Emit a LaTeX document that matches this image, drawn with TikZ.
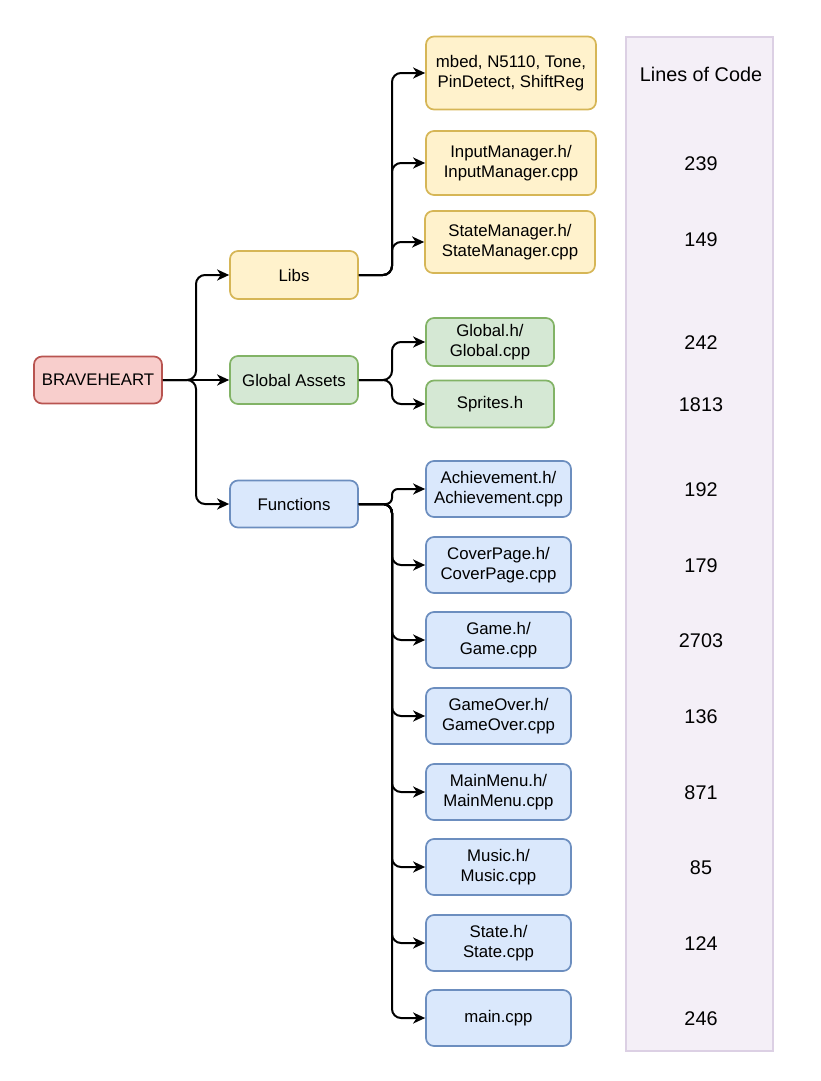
\documentclass[tikz,border=0pt]{standalone}
\usepackage{fontspec}
\setmainfont{Liberation Sans}
\usetikzlibrary{arrows.meta}
\definecolor{redfill}{HTML}{F8CECC}\definecolor{redline}{HTML}{B85450}
\definecolor{yelfill}{HTML}{FFF2CC}\definecolor{yelline}{HTML}{D6B656}
\definecolor{grnfill}{HTML}{D5E8D4}\definecolor{grnline}{HTML}{82B366}
\definecolor{blufill}{HTML}{DAE8FC}\definecolor{bluline}{HTML}{6C8EBF}
\definecolor{panfill}{HTML}{F4EFF7}\definecolor{panline}{HTML}{DCD0E4}
\begin{document}
\begin{tikzpicture}[x=1pt,y=-1pt,
  box/.style={draw, line width=1.7pt, rounded corners=8pt, inner sep=0pt,
    align=center, font=\fontsize{16.8}{19.5}\selectfont},
  rootbox/.style={box, fill=redfill, draw=redline, minimum width=128pt, minimum height=47pt},
  libbox/.style={box, fill=yelfill, draw=yelline, minimum width=170pt},
  glbbox/.style={box, fill=grnfill, draw=grnline, minimum width=128pt, minimum height=48pt},
  funbox/.style={box, fill=blufill, draw=bluline, minimum width=145pt, minimum height=56pt},
  conn/.style={line width=2pt, rounded corners=9pt,
    -{Stealth[length=12pt,width=11pt,inset=3.5pt]}},
  loc/.style={font=\fontsize{19.8}{23}\selectfont}
]
\useasboundingbox (0,0) rectangle (821,1081);

% line-count panel
\node[draw=panline, fill=panfill, line width=1.6pt, minimum width=147pt,
  minimum height=1014pt, inner sep=0pt] (panel) at (699.5,544) {};
\node[loc] (hdr) at (701,74) {Lines of Code};
\node[loc] (n1) at (701,164) {239};
\node[loc] (n2) at (701,240) {149};
\node[loc] (n3) at (701,343) {242};
\node[loc] (n4) at (701,405) {1813};
\node[loc] (n5) at (701,490) {192};
\node[loc] (n6) at (701,566) {179};
\node[loc] (n7) at (701,641) {2703};
\node[loc] (n8) at (701,717) {136};
\node[loc] (n9) at (701,793) {871};
\node[loc] (n10) at (701,868) {85};
\node[loc] (n11) at (701,944) {124};
\node[loc] (n12) at (701,1019) {246};

% tree
\node[rootbox] (root) at (98,380) {BRAVEHEART};
\node[box, fill=yelfill, draw=yelline, minimum width=128pt, minimum height=48pt] (libs) at (294,275) {Libs};
\node[glbbox] (glob) at (294,380) {Global Assets};
\node[box, fill=blufill, draw=bluline, minimum width=128pt, minimum height=47pt] (func) at (294,504) {Functions};

\node[libbox, minimum height=73pt] (mbed) at (511,73) {mbed, N5110, Tone,\\PinDetect, ShiftReg};
\node[libbox, minimum height=64pt] (inpm) at (511,163) {InputManager.h/\\InputManager.cpp};
\node[libbox, minimum height=62pt] (stam) at (510,242) {StateManager.h/\\StateManager.cpp};

\node[glbbox] (glbh) at (490,342) {Global.h/\\Global.cpp};
\node[glbbox, minimum height=47pt] (sprh) at (490,404) {Sprites.h};

\node[funbox] (ach) at (498.5,489) {Achievement.h/\\Achievement.cpp};
\node[funbox] (cov) at (498.5,565) {CoverPage.h/\\CoverPage.cpp};
\node[funbox] (game) at (498.5,640) {Game.h/\\Game.cpp};
\node[funbox] (gover) at (498.5,716) {GameOver.h/\\GameOver.cpp};
\node[funbox] (menu) at (498.5,792) {MainMenu.h/\\MainMenu.cpp};
\node[funbox] (music) at (498.5,867) {Music.h/\\Music.cpp};
\node[funbox] (state) at (498.5,943) {State.h/\\State.cpp};
\node[funbox] (mainc) at (498.5,1018) {main.cpp};

% branch columns
\coordinate (b0) at (196,0);
\coordinate (b1) at (392,0);

\draw[conn] (root.east) -- (root.east -| b0) |- (libs.west);
\draw[conn] (root.east) -- (glob.west);
\draw[conn] (root.east) -- (root.east -| b0) |- (func.west);

\foreach \c in {mbed,inpm,stam}
  \draw[conn] (libs.east) -- (libs.east -| b1) |- (\c.west);
\foreach \c in {glbh,sprh}
  \draw[conn] (glob.east) -- (glob.east -| b1) |- (\c.west);
\draw[conn, rounded corners=6pt] (func.east) -- (func.east -| b1) |- (ach.west);
\foreach \c in {cov,game,gover,menu,music,state,mainc}
  \draw[conn] (func.east) -- (func.east -| b1) |- (\c.west);
\end{tikzpicture}
\end{document}
